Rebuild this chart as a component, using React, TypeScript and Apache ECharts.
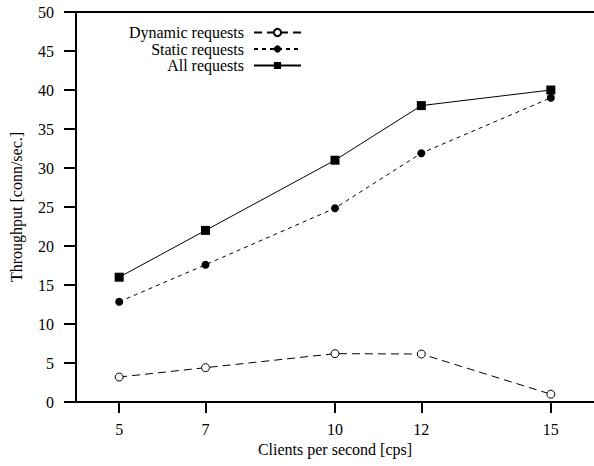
import React, { useEffect, useRef } from "react";
import * as echarts from "echarts";

const clients = [5, 7, 10, 12, 15];
const dynamicReq = [3.2, 4.4, 6.2, 6.15, 1.0];
const staticReq = [12.85, 17.6, 24.85, 31.9, 39.0];
const allReq = [16.0, 22.0, 31.0, 38.0, 40.0];
const xTicks = [5, 7, 10, 12, 15];
const seriesNames = ["Dynamic requests", "Static requests", "All requests"];

const FONT = "Liberation Serif";

export default function App() {
  const ref = useRef<HTMLDivElement>(null);
  useEffect(() => {
    const chart = echarts.init(ref.current!, null, { renderer: "svg" });
    const pair = (ys: number[]) => clients.map((x, i) => [x, ys[i]]);
    const legendTops = [24.5, 41, 57.5];
    const legendFor = (i: number) => ({
      data: [seriesNames[i]],
      right: 292,
      top: legendTops[i],
      align: "right",
      itemWidth: 47,
      itemHeight: 9,
      itemGap: 0,
      textStyle: {
        fontFamily: FONT,
        fontSize: 16,
        lineHeight: 16,
        color: "#000",
        padding: [0, 5, 0, 0],
      },
      selectedMode: false,
      padding: 0,
    });
    chart.setOption({
      animation: false,
      backgroundColor: "#fff",
      legend: [legendFor(0), legendFor(1), legendFor(2)],
      grid: { left: 76, top: 12, bottom: 64, right: -2, containLabel: false },
      xAxis: [
        {
          type: "value",
          min: 4,
          max: 16,
          interval: 1,
          name: "Clients per second [cps]",
          nameLocation: "middle",
          nameGap: 36,
          nameTextStyle: { fontFamily: FONT, fontSize: 16, color: "#000" },
          axisLine: { show: true, onZero: false, lineStyle: { color: "#000", width: 2 } },
          axisTick: { show: true, customValues: xTicks, length: 11, inside: false, lineStyle: { color: "#000", width: 2 } },
          axisLabel: { customValues: xTicks, margin: 19, fontFamily: FONT, fontSize: 16, color: "#000" },
          splitLine: { show: false },
        },
        {
          type: "value",
          position: "top",
          min: 4,
          max: 16,
          axisLine: { show: true, onZero: false, lineStyle: { color: "#000", width: 2 } },
          axisTick: { show: false },
          axisLabel: { show: false },
          splitLine: { show: false },
        },
      ],
      yAxis: {
        type: "value",
        min: 0,
        max: 50,
        interval: 5,
        name: "Throughput [conn/sec.]",
        nameLocation: "middle",
        nameGap: 52,
        nameTextStyle: { fontFamily: FONT, fontSize: 16, color: "#000" },
        axisLine: { show: true, lineStyle: { color: "#000", width: 2 } },
        axisTick: { show: true, length: 12, lineStyle: { color: "#000", width: 2 } },
        axisLabel: { margin: 22, fontFamily: FONT, fontSize: 16, color: "#000" },
        splitLine: { show: false },
      },
      series: [
        {
          name: seriesNames[0],
          type: "line",
          data: pair(dynamicReq),
          symbol: "circle",
          symbolSize: 8,
          itemStyle: { color: "#fff", borderColor: "#000", borderWidth: 1 },
          lineStyle: { color: "#000", width: 1, type: [8, 5] },
        },
        {
          name: seriesNames[1],
          type: "line",
          data: pair(staticReq),
          symbol: "circle",
          symbolSize: 8,
          itemStyle: { color: "#000" },
          lineStyle: { color: "#000", width: 1, type: [4, 4] },
        },
        {
          name: seriesNames[2],
          type: "line",
          data: pair(allReq),
          symbol: "rect",
          symbolSize: 9,
          itemStyle: { color: "#000" },
          lineStyle: { color: "#000", width: 1, type: "solid" },
        },
      ],
    });
    return () => chart.dispose();
  }, []);
  return (
    <div
      ref={ref}
      style={{ position: "absolute", left: 0, top: 0, width: 594, height: 466 }}
    />
  );
}
